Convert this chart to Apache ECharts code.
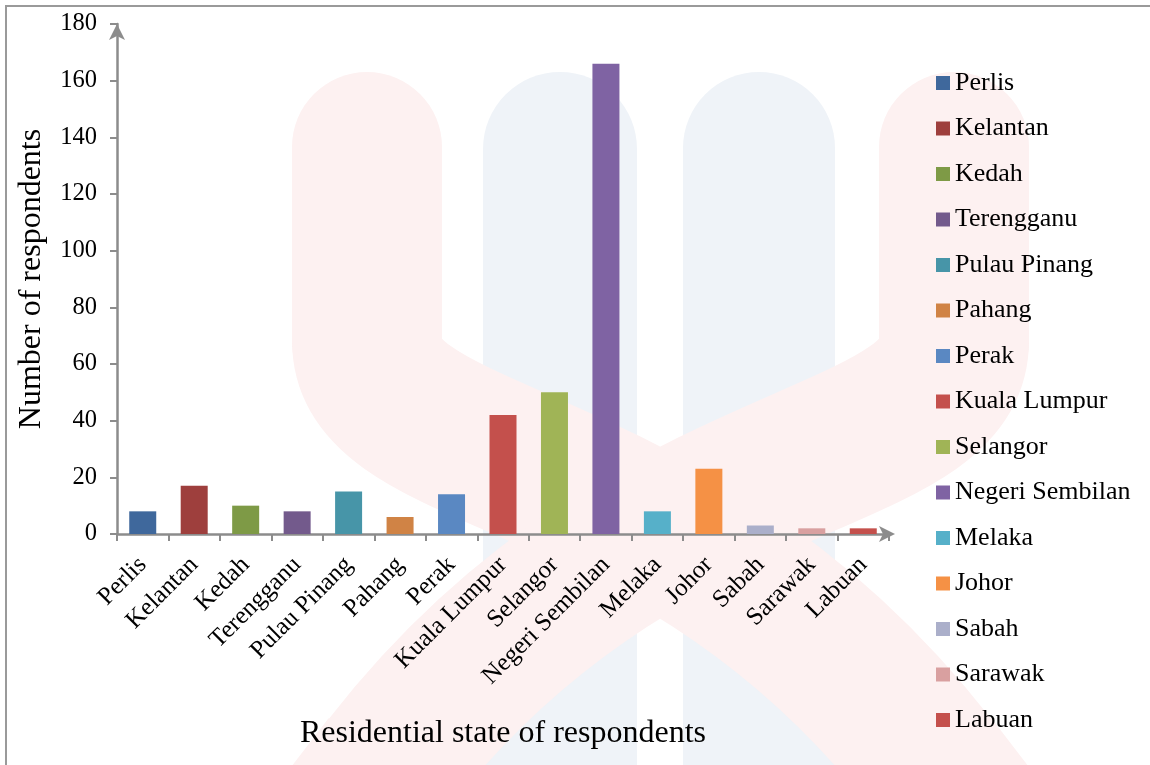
<!DOCTYPE html>
<html>
<head>
<meta charset="utf-8">
<script src="https://cdn.jsdelivr.net/npm/echarts@6/dist/echarts.min.js"></script>
<style>
  html, body { margin: 0; padding: 0; background: #fff; }
  #chart { width: 1150px; height: 765px; }
</style>
</head>
<body>
<div id="chart"></div>
<script>
// states (categories) and respondent counts
const states = ['Perlis', 'Kelantan', 'Kedah', 'Terengganu', 'Pulau Pinang', 'Pahang', 'Perak',
  'Kuala Lumpur', 'Selangor', 'Negeri Sembilan', 'Melaka', 'Johor', 'Sabah', 'Sarawak', 'Labuan'];
const respondents = [8, 17, 10, 8, 15, 6, 14, 42, 50, 166, 8, 23, 3, 2, 2];
const barColors = ['#3F689C', '#9E3F3D', '#7E9A46', '#735A8C', '#4795A8', '#D08345', '#5A88C2',
  '#C4504C', '#A0B456', '#7F63A3', '#56B0C9', '#F59145', '#ABAFCA', '#D9A0A0', '#C4504C'];
const yTicks = [0, 20, 40, 60, 80, 100, 120, 140, 160, 180];

const serif = '"Liberation Serif", "DejaVu Serif", serif';
const chart = echarts.init(document.getElementById('chart'));

// one series per state so the legend lists every state
const series = states.map((name, i) => ({
  name: name,
  type: 'bar',
  stack: 'all',
  barWidth: 27,
  itemStyle: { color: barColors[i] },
  data: states.map((s, j) => (j === i ? respondents[i] : '-'))
}));

// faint publisher watermark behind the plot (rough shape)
const pink = '#FDF1F1';
const blue = '#EFF3F8';
const band = (x0, cx, x3) => [
  { type: 'line', z: -19, silent: true, shape: { x1: x0, y1: 147, x2: x0, y2: 342 },
    style: { stroke: pink, lineWidth: 150, lineCap: 'round' } },
  { type: 'bezierCurve', z: -19, silent: true,
    shape: { x1: x0, y1: 340, cpx1: x0, cpy1: 470, cpx2: cx, cpy2: 440, x2: x3, y2: 765 },
    style: { stroke: pink, fill: 'none', lineWidth: 150 } },
  { type: 'line', z: -19, silent: true, shape: { x1: x3, y1: 764, x2: x3 + (x3 > 660 ? 80 : -80), y2: 868 },
    style: { stroke: pink, lineWidth: 150 } }
];
const watermark = [
  { type: 'rect', z: -20, silent: true, shape: { x: 483, y: 72, width: 154, height: 760, r: [77, 77, 0, 0] }, style: { fill: blue } },
  { type: 'rect', z: -20, silent: true, shape: { x: 683, y: 72, width: 152, height: 760, r: [76, 76, 0, 0] }, style: { fill: blue } }
].concat(band(367, 680, 932), band(954, 640, 388));

chart.setOption({
  animation: false,
  color: barColors,
  graphic: watermark.concat([
    {
      type: 'rect',
      shape: { x: 6, y: 6, width: 1200, height: 800 },
      style: { fill: 'none', stroke: '#9a9a9a', lineWidth: 2 },
      silent: true
    }
  ]),
  grid: { left: 117, right: 261, top: 24, bottom: 231 },
  legend: {
    orient: 'vertical',
    left: 931,
    top: 65,
    itemWidth: 14,
    itemHeight: 14,
    itemGap: 19.5,
    icon: 'rect',
    textStyle: { fontFamily: serif, fontSize: 26, color: '#000' },
    data: states
  },
  xAxis: {
    type: 'category',
    data: states,
    name: 'Residential state of respondents',
    nameLocation: 'middle',
    nameGap: 184,
    nameTextStyle: { fontFamily: serif, fontSize: 32, color: '#000' },
    axisLine: {
      lineStyle: { color: '#8c8c8c', width: 2.5 },
      symbol: ['none', 'arrow'],
      symbolSize: [12, 16],
      symbolOffset: [0, 6]
    },
    axisTick: { show: true, length: 7, lineStyle: { color: '#8c8c8c', width: 2 } },
    axisLabel: {
      rotate: 45,
      margin: 27,
      fontFamily: serif,
      fontSize: 25,
      color: '#000'
    }
  },
  yAxis: {
    type: 'value',
    min: 0,
    max: 180,
    interval: 20,
    name: 'Number of respondents',
    nameLocation: 'middle',
    nameGap: 69,
    nameRotate: 90,
    nameTextStyle: { fontFamily: serif, fontSize: 32, color: '#000' },
    splitLine: { show: false },
    axisLine: {
      show: true,
      lineStyle: { color: '#8c8c8c', width: 2.5 },
      symbol: ['none', 'arrow'],
      symbolSize: [12, 16],
      symbolOffset: [0, 0]
    },
    axisTick: { show: true, length: 7, lineStyle: { color: '#8c8c8c', width: 2 } },
    axisLabel: {
      margin: 20,
      fontFamily: serif,
      fontSize: 24.5,
      color: '#000',
      formatter: v => (yTicks.includes(v) ? String(v) : '')
    }
  },
  series: series
});
</script>
</body>
</html>
